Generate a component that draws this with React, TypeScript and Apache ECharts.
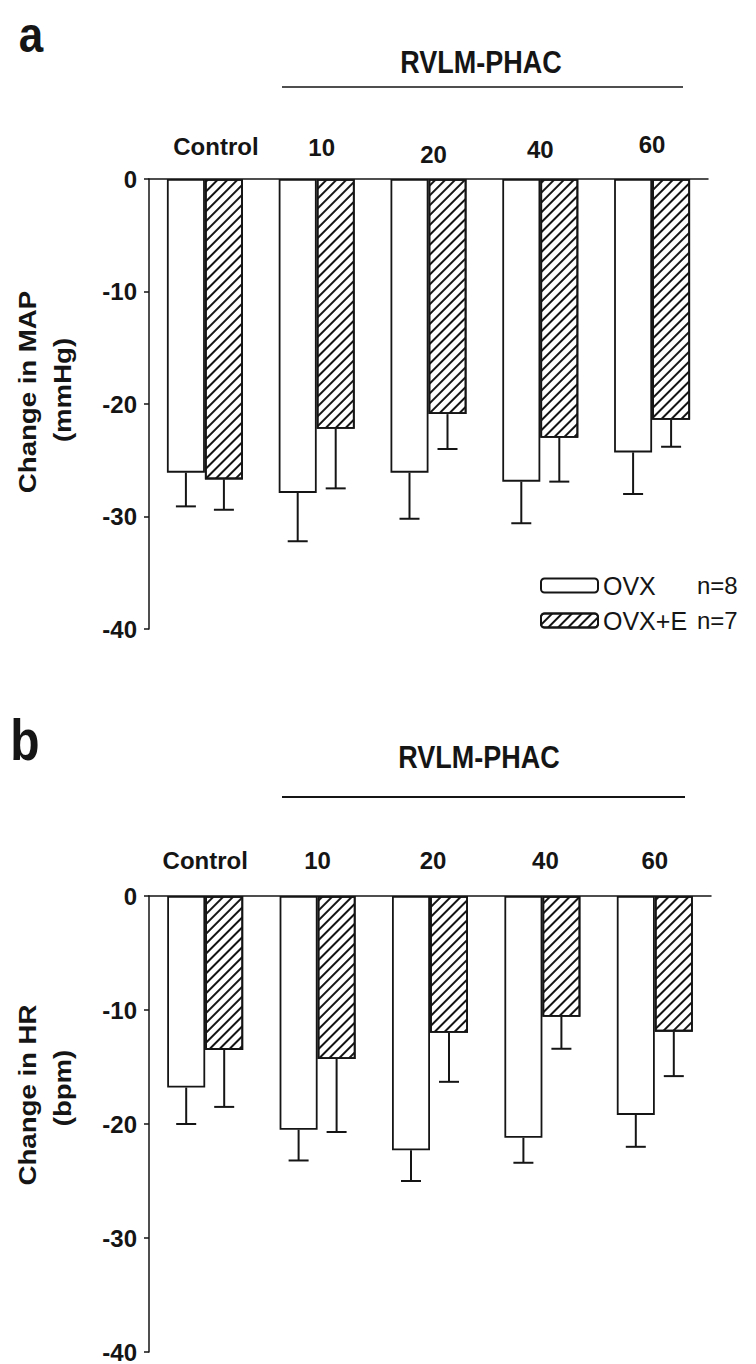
import React, { useEffect, useRef } from 'react';
import * as echarts from 'echarts';

const categories = ['Control', '10', '20', '40', '60'];
const groups = ['OVX', 'OVX+E'];
const groupN = [8, 7];

// Panel a: change in MAP (mmHg)
const mapOvx = [-26.1, -27.9, -26.1, -26.9, -24.3];
const mapOvxErr = [3.0, 4.3, 4.1, 3.7, 3.7];
const mapOvxE = [-26.7, -22.2, -20.9, -23.0, -21.4];
const mapOvxEErr = [2.7, 5.3, 3.1, 3.9, 2.4];

// Panel b: change in HR (bpm)
const hrOvx = [-16.8, -20.5, -22.3, -21.2, -19.2];
const hrOvxErr = [3.2, 2.7, 2.7, 2.2, 2.8];
const hrOvxE = [-13.5, -14.3, -12.0, -10.6, -11.9];
const hrOvxEErr = [5.0, 6.4, 4.3, 2.8, 3.9];

const yMin = -40;
const yMax = 0;
const yStep = 10;

const FONT = "'Liberation Sans', Arial, Helvetica, sans-serif";
const INK = '#151515';

const hatch = {
  symbol: 'rect',
  symbolSize: 1,
  dashArrayX: [1, 0],
  dashArrayY: [1.6, 4.4],
  rotation: -Math.PI / 4,
  color: INK,
  backgroundColor: '#fff',
};

function errData(ovx: number[], ovxErr: number[], ovxE: number[], ovxEErr: number[]) {
  const out: number[][] = [];
  ovx.forEach((v, i) => out.push([i, v, ovxErr[i], 0]));
  ovxE.forEach((v, i) => out.push([i, v, ovxEErr[i], 1]));
  return out;
}

const renderErr = (params: any, api: any) => {
  const x = api.value(0);
  const v = api.value(1);
  const e = api.value(2);
  const g = api.value(3);
  const off = g === 0 ? -19 : 19;
  const p0 = api.coord([x, v]);
  const p1 = api.coord([x, v - e]);
  const cx = p0[0] + off;
  const st = { stroke: INK, lineWidth: 2 };
  return {
    type: 'group',
    children: [
      { type: 'line', shape: { x1: cx, y1: p0[1], x2: cx, y2: p1[1] }, style: st },
      { type: 'line', shape: { x1: cx - 10, y1: p1[1], x2: cx + 10, y2: p1[1] }, style: st },
    ],
  };
};

// per-label style names for the slightly staggered category labels
const labelStylesA = ['c0', 'c1', 'c2', 'c3', 'c4'];
const labelStylesB = ['d0', 'd1', 'd2', 'd3', 'd4'];

const baseLabel = { fontSize: 24, fontWeight: 'bold', color: INK, fontFamily: FONT };

function xAxisFor(gi: number, margin: number, styles: string[], rich: any) {
  return {
    type: 'category',
    gridIndex: gi,
    data: categories,
    position: 'top',
    axisLine: { show: true, onZero: false, lineStyle: { color: INK, width: 1.5 } },
    axisTick: { show: false },
    axisLabel: {
      ...baseLabel,
      interval: 0,
      hideOverlap: false,
      margin,
      formatter: (value: string, idx: number) => `{${styles[idx]}|${value}}`,
      rich,
    },
  };
}

function yAxisFor(gi: number) {
  return {
    type: 'value',
    gridIndex: gi,
    min: yMin,
    max: yMax,
    interval: yStep,
    axisLine: { show: true, lineStyle: { color: INK, width: 1.5 } },
    axisTick: { show: true, length: 5, lineStyle: { color: INK, width: 1.5 } },
    axisLabel: { ...baseLabel, margin: 12 },
    splitLine: { show: false },
  };
}

function barsFor(gi: number, ovx: number[], ovxE: number[]) {
  return [
    {
      name: groups[0],
      type: 'bar',
      xAxisIndex: gi,
      yAxisIndex: gi,
      data: ovx,
      barWidth: 38,
      barGap: '0%',
      itemStyle: { color: '#fff', borderColor: INK, borderWidth: 1.8 },
    },
    {
      name: groups[1],
      type: 'bar',
      xAxisIndex: gi,
      yAxisIndex: gi,
      data: ovxE,
      barWidth: 38,
      barGap: '0%',
      itemStyle: { color: '#fff', borderColor: INK, borderWidth: 1.8, decal: hatch },
    },
  ];
}

function rotText(text: string, x: number, y: number, size: number) {
  return {
    type: 'text',
    x,
    y,
    rotation: Math.PI / 2,
    scaleX: 1.2,
    style: {
      text,
      fill: INK,
      font: `bold ${size}px ${FONT}`,
      align: 'center',
      verticalAlign: 'middle',
    },
  };
}

function plainText(text: string, x: number, y: number, size: number, sy: number) {
  return {
    type: 'text',
    x,
    y,
    scaleY: sy,
    style: {
      text,
      fill: INK,
      font: `bold ${size}px ${FONT}`,
      align: 'center',
      verticalAlign: 'middle',
    },
  };
}

export default function App() {
  const ref = useRef<HTMLDivElement>(null);
  useEffect(() => {
    if (!ref.current) return;
    const chart = echarts.init(ref.current, undefined, { renderer: 'svg' });
    const richA = {
      c0: { ...baseLabel, padding: [0, 0, 8, 22] },
      c1: { ...baseLabel, padding: [0, 0, 7, 10] },
      c2: { ...baseLabel, padding: [0, 0, 0, 10] },
      c3: { ...baseLabel, padding: [0, 0, 5, 0] },
      c4: { ...baseLabel, padding: [0, 0, 10, 0] },
    };
    const richB = {
      d0: { ...baseLabel, padding: [0, 0, 0, 0] },
      d1: { ...baseLabel, padding: [0, 0, 0, 0] },
      d2: { ...baseLabel, padding: [0, 0, 0, 6] },
      d3: { ...baseLabel, padding: [0, 0, 0, 6] },
      d4: { ...baseLabel, padding: [0, 0, 0, 0] },
    };
    const option: any = {
      animation: false,
      backgroundColor: '#fff',
      grid: [
        { left: 149, top: 179, width: 559, height: 450 },
        { left: 149, top: 896, width: 562, height: 458 },
      ],
      xAxis: [xAxisFor(0, 13, labelStylesA, richA), xAxisFor(1, 24, labelStylesB, richB)],
      yAxis: [yAxisFor(0), yAxisFor(1)],
      legend: {
        orient: 'vertical',
        left: 535,
        top: 568,
        itemWidth: 57,
        itemHeight: 14,
        itemGap: 10,
        selectedMode: false,
        data: groups,
        formatter: (name: string) => {
          const i = groups.indexOf(name);
          return `{a|${name}}{b|n=${groupN[i]}}`;
        },
        textStyle: {
          color: INK,
          fontFamily: FONT,
          fontSize: 25,
          rich: {
            a: { fontSize: 25, fontFamily: FONT, color: INK, width: 94 },
            b: { fontSize: 24, fontFamily: FONT, color: INK },
          },
        },
      },
      series: [
        ...barsFor(0, mapOvx, mapOvxE),
        ...barsFor(1, hrOvx, hrOvxE),
        {
          type: 'custom',
          xAxisIndex: 0,
          yAxisIndex: 0,
          data: errData(mapOvx, mapOvxErr, mapOvxE, mapOvxEErr),
          renderItem: renderErr,
          encode: { x: 0, y: 1 },
          z: 5,
          silent: true,
        },
        {
          type: 'custom',
          xAxisIndex: 1,
          yAxisIndex: 1,
          data: errData(hrOvx, hrOvxErr, hrOvxE, hrOvxEErr),
          renderItem: renderErr,
          encode: { x: 0, y: 1 },
          z: 5,
          silent: true,
        },
      ],
      graphic: [
        plainText('a', 31, 34, 44, 1.15),
        plainText('b', 25, 740, 48, 1.2),
        plainText('RVLM-PHAC', 481, 62, 27, 1.15),
        plainText('RVLM-PHAC', 479, 757, 27, 1.15),
        { type: 'line', shape: { x1: 282, y1: 87, x2: 683, y2: 87 }, style: { stroke: INK, lineWidth: 1.6 } },
        { type: 'line', shape: { x1: 282, y1: 797, x2: 685, y2: 797 }, style: { stroke: INK, lineWidth: 2 } },
        rotText('Change in MAP', 28, 392, 23),
        rotText('(mmHg)', 63, 390, 23),
        rotText('Change in HR', 28, 1095, 23),
        rotText('(bpm)', 63, 1088, 23),
      ],
    };
    chart.setOption(option);
    return () => chart.dispose();
  }, []);
  return (
    <div
      ref={ref}
      style={{ position: 'fixed', left: 0, top: 0, width: 756, height: 1364, background: '#fff' }}
    />
  );
}
